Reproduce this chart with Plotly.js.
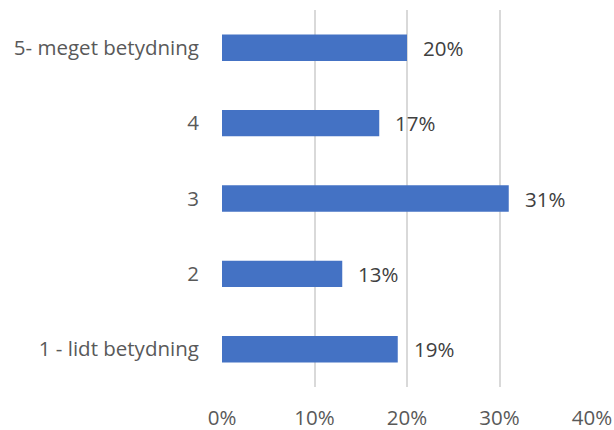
<!DOCTYPE html>
<html>
<head>
<meta charset="utf-8">
<script src="https://cdn.plot.ly/plotly-3.0.1.min.js"></script>
<style>html,body{margin:0;padding:0;background:#fff;}#chart{width:614px;height:430px;}</style>
</head>
<body>
<div id="chart"></div>
<script>
var categories = ["5- meget betydning", "4", "3", "2", "1 - lidt betydning"];
var values = [0.20, 0.17, 0.31, 0.13, 0.19];
var xTickValues = [0, 0.1, 0.2, 0.3, 0.4];
var xTickLabels = ["0%", "10%", "20%", "30%", "40%"];

var fontFam = "Open Sans, Liberation Sans, sans-serif";

var trace = {
  type: "bar",
  orientation: "h",
  y: categories,
  x: values,
  marker: {color: "#4472C4"},
  hoverinfo: "none"
};

var annotations = values.map(function(v, i) {
  return {
    x: v, y: i, xref: "x", yref: "y",
    text: Math.round(v * 100) + "%",
    showarrow: false, xanchor: "left", yanchor: "middle",
    xshift: 14,
    font: {family: fontFam, size: 20.5, color: "#404040"}
  };
});

var layout = {
  width: 614, height: 430,
  margin: {l: 222, r: 22, t: 10, b: 43},
  paper_bgcolor: "#ffffff",
  plot_bgcolor: "#ffffff",
  showlegend: false,
  bargap: 0.65,
  xaxis: {
    range: [0, 0.4],
    tickvals: xTickValues,
    ticktext: xTickLabels,
    showgrid: true,
    gridcolor: "#D9D9D9",
    gridwidth: 2,
    zeroline: false,
    showline: false,
    ticks: "outside",
    ticklen: 12,
    tickcolor: "rgba(0,0,0,0)",
    tickfont: {family: fontFam, size: 20.5, color: "#595959"},
    fixedrange: true
  },
  yaxis: {
    type: "category",
    autorange: "reversed",
    showgrid: false,
    zeroline: false,
    showline: false,
    ticks: "outside",
    ticklen: 18,
    tickcolor: "rgba(0,0,0,0)",
    tickfont: {family: fontFam, size: 20.5, color: "#595959"},
    fixedrange: true
  },
  annotations: annotations
};

Plotly.newPlot("chart", [trace], layout, {displayModeBar: false, staticPlot: true});
</script>
</body>
</html>
